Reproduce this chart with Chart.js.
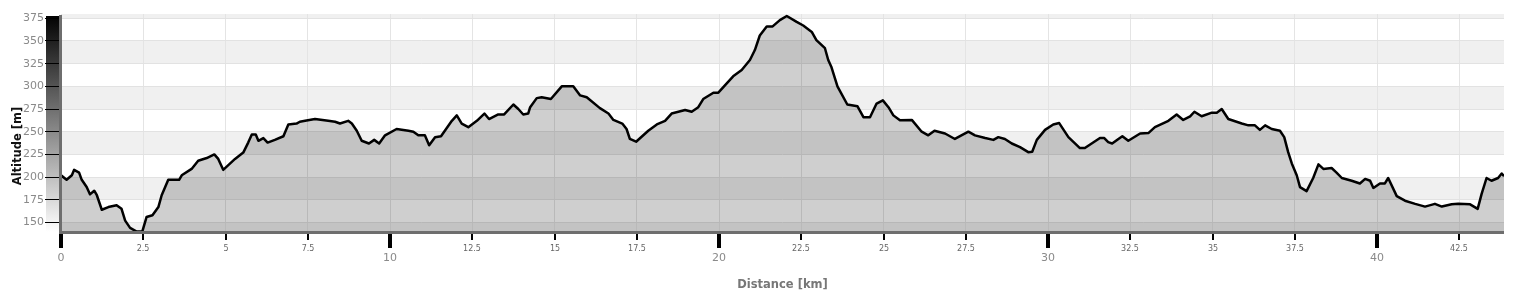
<!DOCTYPE html>
<html>
<head>
<meta charset="utf-8">
<script src="https://cdn.jsdelivr.net/npm/chart.js@4/dist/chart.umd.min.js"></script>
<style>
  html, body { margin: 0; padding: 0; background: #fff; }
  #wrap { width: 1536px; height: 293px; }
</style>
</head>
<body>
<div id="wrap"><canvas id="profile" width="1536" height="293"></canvas></div>
<script>
// Elevation profile
const distKm = [
  0, 0.17, 0.33, 0.40, 0.55, 0.63, 0.78, 0.88, 1.01, 1.09, 1.24, 1.44, 1.69, 1.84, 1.95, 2.10, 2.30, 2.47,
  2.60, 2.78, 2.96, 3.06, 3.26, 3.59, 3.67, 3.97, 4.17, 4.43, 4.66, 4.78, 4.93, 5.29, 5.54, 5.69, 5.80, 5.92,
  6.00, 6.15, 6.28, 6.50, 6.76, 6.91, 7.16, 7.26, 7.42, 7.72, 8.12, 8.33, 8.48, 8.73, 8.84, 8.99, 9.14, 9.36,
  9.52, 9.67, 9.85, 10.20, 10.56, 10.71, 10.86, 11.06, 11.19, 11.37, 11.55, 11.88, 12.03, 12.18, 12.38, 12.64,
  12.87, 13.01, 13.29, 13.47, 13.75, 13.90, 14.05, 14.20, 14.26, 14.46, 14.61, 14.89, 15.22, 15.57, 15.78,
  15.98, 16.38, 16.64, 16.79, 17.06, 17.19, 17.29, 17.48, 17.85, 18.11, 18.36, 18.56, 18.97, 19.17, 19.37,
  19.52, 19.83, 19.98, 20.18, 20.43, 20.69, 20.94, 21.09, 21.24, 21.45, 21.63, 21.85, 22.06, 22.36, 22.56,
  22.82, 22.96, 23.22, 23.32, 23.42, 23.60, 23.90, 24.21, 24.39, 24.59, 24.79, 24.98, 25.15, 25.30, 25.50,
  25.86, 26.16, 26.36, 26.55, 26.87, 27.17, 27.58, 27.78, 28.09, 28.34, 28.49, 28.69, 28.90, 29.15, 29.40,
  29.52, 29.66, 29.91, 30.16, 30.34, 30.62, 30.97, 31.12, 31.58, 31.71, 31.83, 31.95, 32.14, 32.26, 32.44,
  32.80, 33.05, 33.25, 33.66, 33.91, 34.11, 34.32, 34.45, 34.67, 34.98, 35.13, 35.28, 35.48, 35.89, 36.09,
  36.29, 36.44, 36.60, 36.80, 37.05, 37.18, 37.30, 37.41, 37.56, 37.66, 37.86, 38.06, 38.22, 38.37, 38.62,
  38.77, 38.93, 39.23, 39.48, 39.64, 39.79, 39.89, 40.09, 40.24, 40.34, 40.60, 40.85, 41.16, 41.46, 41.76,
  41.97, 42.27, 42.47, 42.83, 43.06, 43.18, 43.33, 43.48, 43.68, 43.79, 43.86
];
const altM = [
  202, 197, 202, 208, 205, 197, 189, 181, 185, 180, 164, 167, 169, 165, 152, 144, 140, 140,
  156, 158, 167, 180, 197, 197, 202, 209, 218, 221, 225, 220, 208, 220, 227, 238, 247, 247,
  240, 243, 238, 241, 245, 258, 259, 261, 262, 264, 262, 261, 259, 262, 259, 251, 240, 237,
  241, 237, 246, 253, 251, 250, 246, 246, 235, 244, 245, 262, 268, 259, 255, 262,
  270, 264, 269, 269, 280, 275, 269, 270, 277, 287, 288, 286, 300, 300, 290,
  288, 276, 270, 263, 259, 253, 242, 239, 251, 258, 262, 270, 274, 272, 277,
  286, 293, 293, 301, 311, 318, 329, 340, 356, 366, 366, 373, 377.5, 371, 367,
  360, 351, 342, 329, 321, 300, 280, 278, 266, 266, 281, 284.5, 277, 268, 262.5,
  263, 250, 246, 251, 248, 242, 250, 246, 243, 241, 244, 242, 237, 233, 227.5,
  228, 241, 252, 258, 259.5, 244, 232, 232, 243, 243, 238.5, 237, 242, 245, 240,
  248, 248.5, 255, 262, 269, 263, 267, 272, 267, 271, 271, 275, 264, 259, 257,
  257, 252, 257, 253, 251, 244, 227.5, 215, 202, 189, 184.5, 199, 214, 209, 210,
  205, 199, 196, 193, 198, 196, 188, 193, 193, 199, 179, 174, 170.5, 167.5, 170.5,
  167.5, 170, 170.5, 170, 165, 181.5, 199, 196, 199, 204, 201
];

// Axes
const xMin = 0;
const xMax = 43.86;
const yMin = 139.5;
const yMax = 379.7;
const xTickKm = [0, 2.5, 5, 7.5, 10, 12.5, 15, 17.5, 20, 22.5, 25, 27.5, 30, 32.5, 35, 37.5, 40, 42.5];
const yTickM = [150, 175, 200, 225, 250, 275, 300, 325, 350, 375];
const xTitle = 'Distance [km]';
const yTitle = 'Altitude [m]';

const FONT = '"DejaVu Sans", "Liberation Sans", sans-serif';

// bands, gradient bar, axis lines, x ticks and titles
const profileDecor = {
  id: 'profileDecor',
  beforeDraw(chart) {
    const { ctx, chartArea: a, scales: { y } } = chart;
    ctx.save();
    // alternating bands: grey where floor(v/25) is odd
    ctx.fillStyle = '#f0f0f0';
    for (let v = 125; v < yMax; v += 25) {
      if (Math.floor(v / 25) % 2 === 0) continue;
      const top = Math.max(y.getPixelForValue(v + 25), a.top);
      const bot = Math.min(y.getPixelForValue(v), a.bottom);
      if (bot > top) ctx.fillRect(a.left, top, a.right - a.left, bot - top);
    }
    // gradient bar left of the plot
    const g = ctx.createLinearGradient(0, a.top, 0, a.bottom);
    g.addColorStop(0, '#000');
    g.addColorStop(1, '#fff');
    ctx.fillStyle = g;
    ctx.fillRect(a.left - 15, a.top + 2, 13, a.bottom - a.top - 2);
    ctx.restore();
  },
  afterDraw(chart) {
    const { ctx, chartArea: a, scales: { x } } = chart;
    ctx.save();
    // axis lines
    ctx.fillStyle = '#6e6e6e';
    ctx.fillRect(a.left - 2, a.top + 1, 3, a.bottom - a.top + 1);
    ctx.fillRect(a.left - 2, a.bottom - 1, a.right - a.left + 2, 3);

    // x ticks: big every 10 km, small every 2.5 km
    ctx.textAlign = 'center';
    ctx.textBaseline = 'middle';
    xTickKm.forEach(v => {
      const px = Math.round(x.getPixelForValue(v));
      const major = v % 10 === 0;
      ctx.fillStyle = '#000';
      if (major) {
        ctx.fillRect(px - 2, a.bottom + 2, 4, 14);
        ctx.fillStyle = '#8a8a8a';
        ctx.font = '11px ' + FONT;
        ctx.fillText(String(v), px, 258);
      } else {
        ctx.fillRect(px - 1, a.bottom + 2, 2, 6);
        ctx.fillStyle = '#666';
        ctx.font = '8px ' + FONT;
        ctx.fillText(String(v), px, 249);
      }
    });

    // titles
    ctx.font = 'bold 11.5px ' + FONT;
    ctx.fillStyle = '#777';
    ctx.fillText(xTitle, (a.left + a.right) / 2, 285);

    ctx.translate(18, 146);
    ctx.rotate(-Math.PI / 2);
    ctx.fillStyle = '#111';
    ctx.fillText(yTitle, 0, 0);
    ctx.restore();
  }
};

const ctx = document.getElementById('profile').getContext('2d');
const chart = new Chart(ctx, {
  type: 'line',
  data: {
    datasets: [{
      data: distKm.map((d, i) => ({ x: d, y: altM[i] })),
      borderColor: '#000',
      borderWidth: 2.5,
      borderJoinStyle: 'round',
      backgroundColor: 'rgba(0,0,0,0.19)',
      fill: 'start',
      pointRadius: 0,
      tension: 0
    }]
  },
  options: {
    responsive: false,
    animation: false,
    devicePixelRatio: 1,
    layout: { padding: { left: 21, right: 32, top: 14, bottom: 61 } },
    plugins: { legend: { display: false }, tooltip: { enabled: false } },
    scales: {
      x: {
        type: 'linear',
        min: xMin,
        max: xMax,
        afterBuildTicks: s => { s.ticks = xTickKm.map(v => ({ value: v })); },
        ticks: { display: false },
        grid: { color: '#e4e4e4', lineWidth: 1, drawTicks: false },
        border: { display: false }
      },
      y: {
        min: yMin,
        max: yMax,
        afterBuildTicks: s => { s.ticks = yTickM.map(v => ({ value: v })); },
        afterFit: s => { s.width = 40; },
        ticks: {
          padding: 1,
          color: '#8a8a8a',
          font: { family: FONT, size: 11 }
        },
        grid: { color: '#e2e2e2', lineWidth: 1, tickLength: 16, tickColor: '#000', tickWidth: 1 },
        border: { display: false }
      }
    }
  },
  plugins: [profileDecor]
});
</script>
</body>
</html>
